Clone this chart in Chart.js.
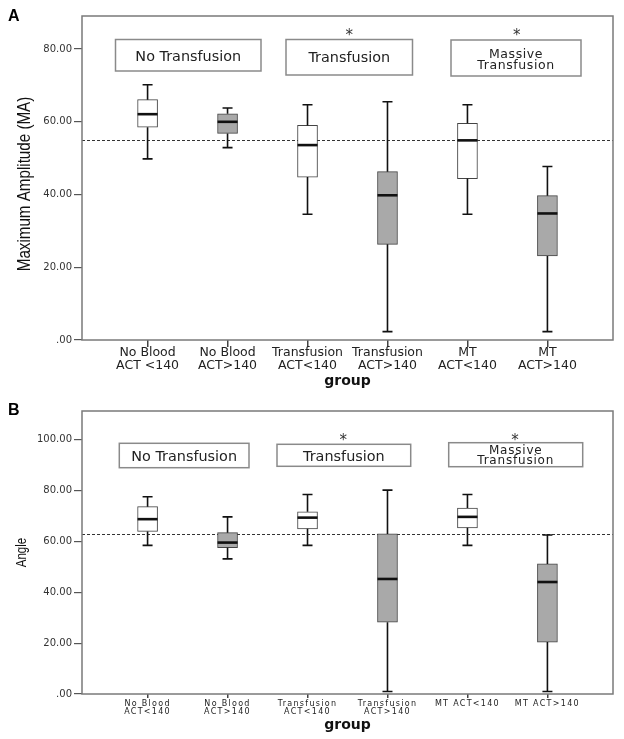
<!DOCTYPE html>
<html><head><meta charset="utf-8">
<script src="https://cdn.jsdelivr.net/npm/chart.js@4.4.1/dist/chart.umd.min.js"></script>
<style>
html,body{margin:0;padding:0;background:#fff}
body{width:624px;height:739px;overflow:hidden;position:relative}
canvas{position:absolute;left:0}
</style></head><body>
<canvas id="ca" width="624" height="395" style="top:0;width:624px;height:395px"></canvas>
<canvas id="cb" width="624" height="344" style="top:395px;width:624px;height:344px"></canvas>
<script>
// ---- data ----
const categories = ['No Blood ACT<140','No Blood ACT>140','Transfusion ACT<140','Transfusion ACT>140','MT ACT<140','MT ACT>140'];
const labelsA = [['No Blood','ACT <140'],['No Blood','ACT>140'],['Transfusion','ACT<140'],['Transfusion','ACT>140'],['MT','ACT<140'],['MT','ACT>140']];
const labelsB = [['No Blood','ACT<140'],['No Blood','ACT>140'],['Transfusion','ACT<140'],['Transfusion','ACT>140'],['MT ACT<140'],['MT ACT>140']];

const maMin    = [49.8, 52.9, 34.6,  2.3, 34.6,  2.3];
const maQ1     = [58.5, 56.8, 44.8, 26.3, 44.4, 23.1];
const maMedian = [62.1, 60.0, 53.6, 39.8, 54.9, 34.8];
const maQ3     = [66.1, 62.2, 59.0, 46.3, 59.6, 39.7];
const maMax    = [70.2, 63.8, 64.7, 65.5, 64.7, 47.7];
const maRef = 55.0;

const angleMin    = [58.4, 53.1, 58.4,  1.0, 58.4,  1.0];
const angleQ1     = [63.9, 57.5, 64.9, 28.2, 65.3, 20.4];
const angleMedian = [68.7, 59.5, 69.3, 45.2, 69.6, 44.0];
const angleQ3     = [73.6, 63.4, 71.6, 62.9, 73.1, 51.1];
const angleMax    = [77.5, 69.6, 78.4, 80.1, 78.4, 62.5];
const angleRef = 62.9;

const yTicksA = [0, 20, 40, 60, 80];
const yTicksB = [0, 20, 40, 60, 80, 100];
const groupTypes = ['none','blood','none','blood','none','blood'];
const annotationTexts = [['No Transfusion'], ['Transfusion'], ['Massive','Transfusion']];

// ---- styles ----
const fillFor = {none:'#ffffff', blood:'#a9a9a9'};
const fmtTick = v => v === 0 ? '.00' : v.toFixed(2);

function boxplotPlugin(p){
  return {
    id:'bp',
    beforeDatasetsDraw(chart){
      const {ctx, chartArea:a, scales:{y}} = chart;
      const yy = Math.round(y.getPixelForValue(p.ref)) + 0.5;
      ctx.save();
      ctx.strokeStyle = '#333'; ctx.lineWidth = 1; ctx.setLineDash([3,2]);
      ctx.beginPath(); ctx.moveTo(a.left, yy); ctx.lineTo(a.right, yy); ctx.stroke();
      ctx.restore();
    },
    afterDatasetsDraw(chart){
      const {ctx, scales:{x, y}} = chart;
      ctx.save();
      ctx.strokeStyle = '#111';
      for (let i = 0; i < p.med.length; i++){
        const cx = x.getPixelForValue(i);
        ctx.lineWidth = 1.6;
        ctx.beginPath();
        ctx.moveTo(cx, y.getPixelForValue(p.max[i])); ctx.lineTo(cx, y.getPixelForValue(p.q3[i]));
        ctx.moveTo(cx, y.getPixelForValue(p.q1[i])); ctx.lineTo(cx, y.getPixelForValue(p.min[i]));
        ctx.moveTo(cx-5, y.getPixelForValue(p.max[i])); ctx.lineTo(cx+5, y.getPixelForValue(p.max[i]));
        ctx.moveTo(cx-5, y.getPixelForValue(p.min[i])); ctx.lineTo(cx+5, y.getPixelForValue(p.min[i]));
        ctx.stroke();
        ctx.lineWidth = 2.6;
        ctx.beginPath();
        ctx.moveTo(cx-10, y.getPixelForValue(p.med[i])); ctx.lineTo(cx+10, y.getPixelForValue(p.med[i]));
        ctx.stroke();
      }
      ctx.restore();
    },
    afterDraw(chart){
      const {ctx, chartArea:a, scales:{x}} = chart;
      ctx.save();
      // plot frame
      ctx.strokeStyle = '#7a7a7a'; ctx.lineWidth = 1.5;
      ctx.strokeRect(a.left, a.top, a.right - a.left, a.bottom - a.top);
      // x tick labels
      ctx.fillStyle = '#222'; ctx.textAlign = 'center'; ctx.textBaseline = 'middle';
      ctx.font = p.labelFont;
      ctx.letterSpacing = p.labelSpacing;
      p.xLabels.forEach((lines, i) => {
        const cx = x.getPixelForValue(i);
        lines.forEach((t, k) => ctx.fillText(t, cx, p.labelY + k * p.labelLH));
      });
      ctx.letterSpacing = '0px';
      // annotation boxes
      ctx.strokeStyle = '#8a8a8a'; ctx.lineWidth = 1.5;
      p.boxes.forEach((b, j) => {
        ctx.strokeRect(b.x0, b.y0, b.x1 - b.x0, b.y1 - b.y0);
        ctx.font = b.font; ctx.fillStyle = '#222';
        ctx.letterSpacing = b.ls;
        const lines = annotationTexts[j];
        const cx = (b.x0 + b.x1) / 2;
        lines.forEach((t, k) => ctx.fillText(t, cx, b.ty[k]));
        ctx.letterSpacing = '0px';
      });
      ctx.font = '15px "DejaVu Sans",sans-serif'; ctx.fillStyle = '#333';
      ctx.textBaseline = 'alphabetic';
      p.stars.forEach(s => ctx.fillText('*', s[0], s[1] + 8));
      // group title
      ctx.font = 'bold 14px "DejaVu Sans",sans-serif'; ctx.fillStyle = '#111';
      ctx.textBaseline = 'middle';
      ctx.fillText('group', (a.left + a.right) / 2, p.groupY);
      // y title (narrow look: horizontally compressed Liberation Sans)
      ctx.save();
      ctx.translate(p.yTitleX, p.yTitleY); ctx.rotate(-Math.PI / 2); ctx.scale(0.82, 1);
      ctx.font = p.yTitleFont; ctx.fillStyle = '#111';
      ctx.fillText(p.yTitle, 0, 0);
      ctx.restore();
      // panel letter
      ctx.font = 'bold 16px "Liberation Sans",Arial,sans-serif'; ctx.fillStyle = '#000';
      ctx.textAlign = 'left'; ctx.textBaseline = 'alphabetic';
      ctx.fillText(p.panel, p.panelX, p.panelY);
      ctx.restore();
    }
  };
}

function makeChart(id, p){
  const data = categories.map((c, i) => ({x: i, y: [p.q1[i], p.q3[i]]}));
  return new Chart(document.getElementById(id), {
    type: 'bar',
    data: { datasets: [{
      label: p.yTitle,
      data,
      backgroundColor: groupTypes.map(g => fillFor[g]),
      borderColor: '#444', borderWidth: 1, borderSkipped: false,
      barThickness: 20
    }]},
    options: {
      responsive: false, animation: false, devicePixelRatio: 1,
      layout: { padding: { top: p.padTop, right: 11, left: 0, bottom: 0 } },
      plugins: { legend: {display:false}, tooltip: {enabled:false} },
      scales: {
        x: {
          type: 'linear', min: -0.82, max: 5.82, offset: false,
          afterBuildTicks: s => { s.ticks = categories.map((c, i) => ({value: i})); },
          afterFit: s => { s.height = p.xHeight; },
          ticks: { display: false },
          grid: { display: true, offset: false, drawOnChartArea: false, drawTicks: true, tickLength: p.xTickLen, tickColor: '#444', lineWidth: 1.5 },
          border: { display: false }
        },
        y: {
          min: 0, max: p.yMax,
          afterBuildTicks: s => { s.ticks = p.yTicks.map(v => ({value: v})); },
          afterFit: s => { s.width = 82; },
          ticks: { callback: v => fmtTick(v), color: '#333', padding: 2,
                   font: { family: '"DejaVu Sans",sans-serif', size: 10 } },
          grid: { display: true, drawOnChartArea: false, drawTicks: true, tickLength: 8, tickColor: '#555', lineWidth: 1.2 },
          border: { display: false }
        }
      }
    },
    plugins: [boxplotPlugin(p)]
  });
}

makeChart('ca', {
  min: maMin, q1: maQ1, med: maMedian, q3: maQ3, max: maMax, ref: maRef,
  yMax: 89.1, yTicks: yTicksA, xLabels: labelsA,
  labelFont: '12.5px "DejaVu Sans",sans-serif', labelSpacing: '0px', labelY: 352.5, labelLH: 13,
  padTop: 16, xHeight: 55, xTickLen: 7,
  yTitle: 'Maximum Amplitude (MA)', yTitleFont: '18.5px "Liberation Sans",Arial,sans-serif', yTitleX: 25, yTitleY: 184,
  panel: 'A', panelX: 8, panelY: 21, groupY: 381,
  boxes: [
    {x0: 115.5, x1: 261, y0: 39.5, y1: 71, ty: [57], font: '14.4px "DejaVu Sans",sans-serif', ls: '0px'},
    {x0: 286, x1: 412.5, y0: 39.5, y1: 75, ty: [58.3], font: '14.4px "DejaVu Sans",sans-serif', ls: '0px'},
    {x0: 451, x1: 581, y0: 40, y1: 76, ty: [54.3, 65.8], font: '12.5px "DejaVu Sans",sans-serif', ls: '0.6px'}
  ],
  stars: [[349.3, 31.7], [516.7, 31.7]]
});

makeChart('cb', {
  min: angleMin, q1: angleQ1, med: angleMedian, q3: angleQ3, max: angleMax, ref: angleRef,
  yMax: 111.2, yTicks: yTicksB, xLabels: labelsB,
  labelFont: '8px "DejaVu Sans",sans-serif', labelSpacing: '1.3px', labelY: 309, labelLH: 7.5,
  padTop: 16, xHeight: 45, xTickLen: 4,
  yTitle: 'Angle', yTitleFont: '14px "Liberation Sans",Arial,sans-serif', yTitleX: 22, yTitleY: 157.5,
  panel: 'B', panelX: 8, panelY: 20, groupY: 330.7,
  boxes: [
    {x0: 119.3, x1: 249, y0: 48.3, y1: 72.7, ty: [62], font: '14.4px "DejaVu Sans",sans-serif', ls: '0px'},
    {x0: 277, x1: 410.7, y0: 49.3, y1: 71.3, ty: [62.3], font: '14.4px "DejaVu Sans",sans-serif', ls: '0px'},
    {x0: 448.7, x1: 582.7, y0: 47.7, y1: 71.7, ty: [56, 66], font: '12px "DejaVu Sans",sans-serif', ls: '0.8px'}
  ],
  stars: [[343.3, 41.7], [515, 41.7]]
});
</script>
</body></html>
